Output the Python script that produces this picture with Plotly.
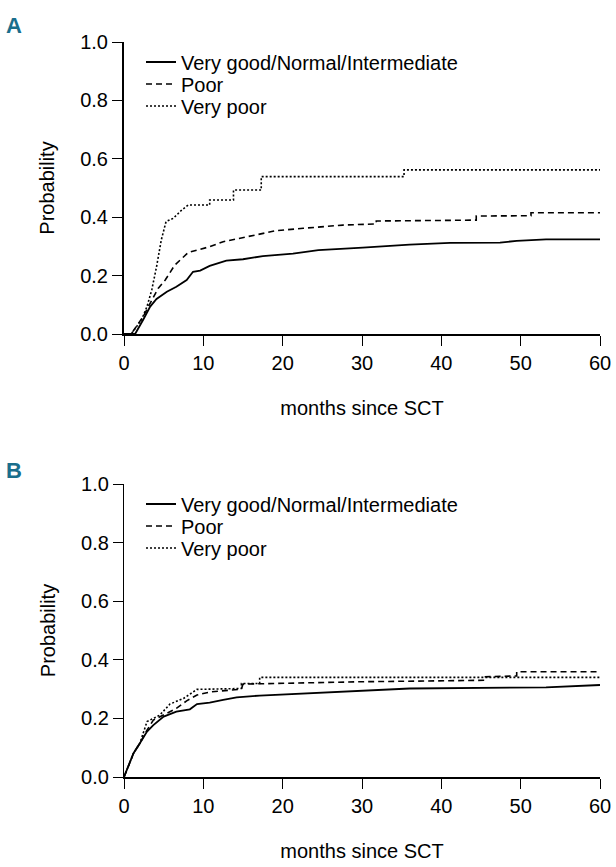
import plotly.graph_objects as go

# ---------------- data ----------------
series_names = ["Very good/Normal/Intermediate", "Poor", "Very poor"]

# Panel A
a_good_x = [0, 1.4, 2.4, 3.3, 4.1, 5.4, 6.6, 7.9, 8.7, 9.6, 10.8, 12.1, 12.9, 15.0, 17.5, 21.3, 24.5, 30.1, 36.0, 41.1, 47.4, 49.5, 53.2, 60]
a_good_y = [0, 0.0, 0.048, 0.094, 0.12, 0.145, 0.162, 0.185, 0.213, 0.217, 0.233, 0.244, 0.251, 0.256, 0.267, 0.275, 0.287, 0.296, 0.306, 0.312, 0.313, 0.319, 0.324, 0.324]

a_poor_x = [0, 0.9, 2.4, 3.3, 4.3, 5.2, 6.4, 8.1, 9.6, 10.8, 12.5, 15.0, 17.1, 19.2, 22.6, 27.6, 31.8, 31.8, 44.4, 44.4, 51.3, 51.3, 60]
a_poor_y = [0, 0.0, 0.059, 0.106, 0.156, 0.185, 0.236, 0.279, 0.290, 0.299, 0.316, 0.330, 0.342, 0.354, 0.362, 0.373, 0.377, 0.387, 0.390, 0.404, 0.405, 0.415, 0.415]

a_vpoor_x = [0, 0.9, 2.2, 2.9, 3.5, 4.1, 4.7, 5.3, 6.2, 7.3, 8.1, 10.8, 10.8, 13.8, 13.8, 17.3, 17.3, 35.3, 35.3, 60]
a_vpoor_y = [0, 0.0, 0.048, 0.094, 0.151, 0.230, 0.322, 0.385, 0.396, 0.425, 0.442, 0.442, 0.459, 0.459, 0.493, 0.493, 0.539, 0.539, 0.562, 0.562]

# Panel B
b_good_x = [0, 1.2, 2.0, 2.9, 3.7, 5.0, 6.6, 8.3, 9.2, 10.8, 12.5, 14.2, 17.1, 21.3, 25.5, 29.7, 36.0, 53.2, 60]
b_good_y = [0, 0.081, 0.115, 0.155, 0.177, 0.206, 0.223, 0.231, 0.249, 0.254, 0.263, 0.272, 0.278, 0.283, 0.290, 0.293, 0.302, 0.306, 0.314]

b_poor_x = [0, 1.2, 2.0, 2.9, 3.7, 5.4, 6.6, 7.9, 9.2, 10.8, 13.3, 14.8, 15.0, 19.2, 29.7, 45.3, 45.3, 49.5, 49.5, 60]
b_poor_y = [0, 0.081, 0.115, 0.160, 0.194, 0.217, 0.234, 0.260, 0.280, 0.290, 0.297, 0.300, 0.317, 0.320, 0.325, 0.330, 0.342, 0.345, 0.359, 0.359]

b_vpoor_x = [0, 1.2, 2.0, 2.9, 4.5, 5.8, 7.5, 9.2, 14.8, 14.8, 17.1, 17.1, 60]
b_vpoor_y = [0, 0.081, 0.115, 0.189, 0.211, 0.249, 0.268, 0.299, 0.302, 0.319, 0.319, 0.340, 0.340]

x_ticks = [0, 10, 20, 30, 40, 50, 60]
y_ticks = [0.0, 0.2, 0.4, 0.6, 0.8, 1.0]
y_tick_text = ["0.0", "0.2", "0.4", "0.6", "0.8", "1.0"]

# ---------------- style ----------------
FONT = "Liberation Sans, Arial, sans-serif"
W, H = 616, 867
dashes = ["solid", "6px,4px", "2px,2px"]
widths = [1.8, 1.6, 1.6]


def px_x(p):
    return p / W


def px_y(p):
    return 1 - p / H


fig = go.Figure()

legend_rows = {"A": [62, 84, 106], "B": [504, 526, 548]}
panels = [
    ("A", "x", "y", [(a_good_x, a_good_y), (a_poor_x, a_poor_y), (a_vpoor_x, a_vpoor_y)]),
    ("B", "x2", "y2", [(b_good_x, b_good_y), (b_poor_x, b_poor_y), (b_vpoor_x, b_vpoor_y)]),
]
legend_layouts = {}
k = 0
for pname, xa, ya, data in panels:
    for i, (xs, ys) in enumerate(data):
        k += 1
        lg = "legend" if k == 1 else f"legend{k}"
        fig.add_trace(go.Scatter(
            x=xs, y=ys, mode="lines", name=series_names[i],
            line=dict(color="black", width=widths[i], dash=dashes[i]),
            xaxis=xa, yaxis=ya, legend=lg, showlegend=True,
        ))
        legend_layouts[lg] = dict(
            x=px_x(141), y=px_y(legend_rows[pname][i]), xanchor="left", yanchor="middle",
            font=dict(family=FONT, size=20, color="black"), bgcolor="rgba(0,0,0,0)",
            borderwidth=0, itemwidth=30,
        )

axis_common = dict(
    showgrid=False, zeroline=False, showline=True, linecolor="black",
    ticks="outside", ticklen=10, tickwidth=1.2, tickcolor="black", automargin=False,
    tickfont=dict(family=FONT, size=20, color="black"),
)

xdom = [px_x(124), px_x(600)]
xtitle = dict(text="months since SCT", font=dict(family=FONT, size=20), standoff=28)
ytitle = dict(text="Probability", font=dict(family=FONT, size=20), standoff=20)
fig.update_layout(
    width=W, height=H,
    margin=dict(l=0, r=0, t=0, b=0, autoexpand=False),
    paper_bgcolor="white", plot_bgcolor="white",
    font=dict(family=FONT, color="black"),
    xaxis=dict(domain=xdom, range=[0, 60], tickvals=x_ticks, anchor="y", linewidth=1.5,
               title=xtitle, **axis_common),
    yaxis=dict(domain=[px_y(334), px_y(42)], range=[0, 1], tickvals=y_ticks, ticktext=y_tick_text,
               anchor="x", linewidth=2, title=ytitle, **axis_common),
    xaxis2=dict(domain=xdom, range=[0, 60], tickvals=x_ticks, anchor="y2", linewidth=2,
                title=xtitle, **axis_common),
    yaxis2=dict(domain=[px_y(777), px_y(484)], range=[0, 1], tickvals=y_ticks, ticktext=y_tick_text,
                anchor="x2", linewidth=1.2, title=ytitle, **axis_common),
    annotations=[
        dict(text="<b>A</b>", x=px_x(14), y=px_y(25), xref="paper", yref="paper",
             xanchor="center", yanchor="middle", showarrow=False,
             font=dict(family=FONT, size=22, color="#1a6e8c")),
        dict(text="<b>B</b>", x=px_x(14), y=px_y(470), xref="paper", yref="paper",
             xanchor="center", yanchor="middle", showarrow=False,
             font=dict(family=FONT, size=22, color="#1a6e8c")),
    ],
    **legend_layouts,
)

fig.write_html("out.html", config={"displayModeBar": False},
               post_script="document.body.style.margin='0px';")
